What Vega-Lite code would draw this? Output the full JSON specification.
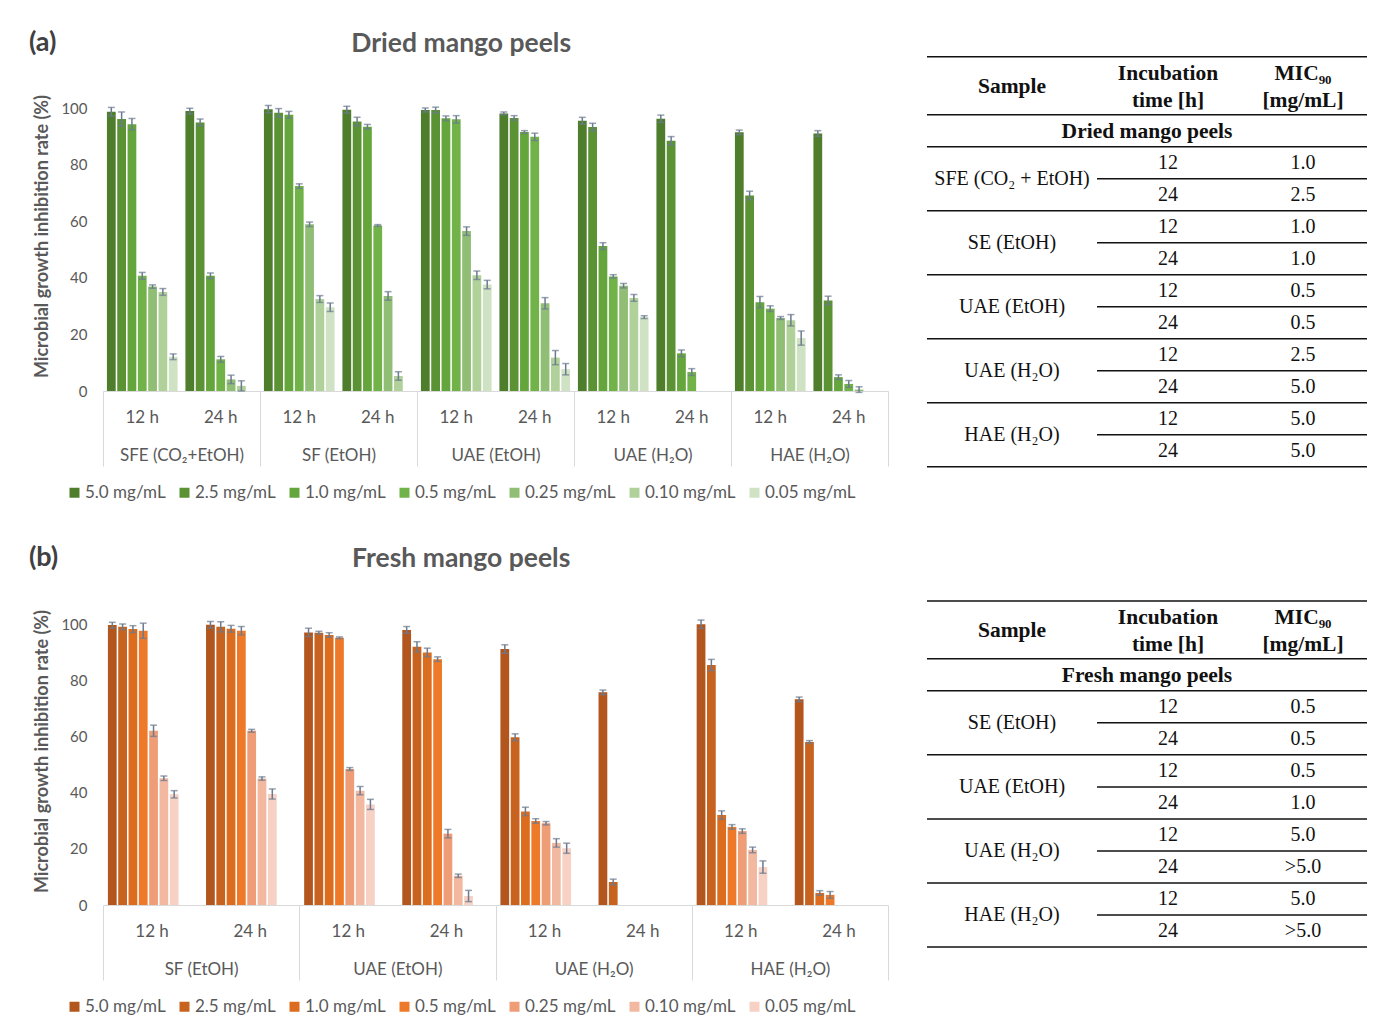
{
  "$schema": "https://vega.github.io/schema/vega-lite/v6.json",
  "padding": {"left": 28, "top": 28, "right": 5, "bottom": 5},
  "config": {
    "view": {"stroke": null},
    "font": "Lato",
    "axis": {"labelColor": "#595959", "titleColor": "#595959", "labelFont": "Lato", "titleFont": "Lato"},
    "legend": {"labelColor": "#595959", "labelFont": "Lato", "layout": {"bottom": {"anchor": "middle"}}},
    "title": {"font": "Lato"}
  },
  "datasets": {
    "dried": [
      {"m":"SFE (CO₂+EtOH)","g":"SFE (CO₂+EtOH) 12 h","c":"5.0 mg/mL","v":98.7,"e":1.5},
      {"m":"SFE (CO₂+EtOH)","g":"SFE (CO₂+EtOH) 12 h","c":"2.5 mg/mL","v":96.1,"e":2.5},
      {"m":"SFE (CO₂+EtOH)","g":"SFE (CO₂+EtOH) 12 h","c":"1.0 mg/mL","v":94.3,"e":2.0},
      {"m":"SFE (CO₂+EtOH)","g":"SFE (CO₂+EtOH) 12 h","c":"0.5 mg/mL","v":40.7,"e":1.2},
      {"m":"SFE (CO₂+EtOH)","g":"SFE (CO₂+EtOH) 12 h","c":"0.25 mg/mL","v":36.9,"e":0.6},
      {"m":"SFE (CO₂+EtOH)","g":"SFE (CO₂+EtOH) 12 h","c":"0.10 mg/mL","v":35.0,"e":1.2},
      {"m":"SFE (CO₂+EtOH)","g":"SFE (CO₂+EtOH) 12 h","c":"0.05 mg/mL","v":12.1,"e":1.0},
      {"m":"SFE (CO₂+EtOH)","g":"SFE (CO₂+EtOH) 24 h","c":"5.0 mg/mL","v":98.9,"e":1.0},
      {"m":"SFE (CO₂+EtOH)","g":"SFE (CO₂+EtOH) 24 h","c":"2.5 mg/mL","v":94.9,"e":1.2},
      {"m":"SFE (CO₂+EtOH)","g":"SFE (CO₂+EtOH) 24 h","c":"1.0 mg/mL","v":40.7,"e":1.0},
      {"m":"SFE (CO₂+EtOH)","g":"SFE (CO₂+EtOH) 24 h","c":"0.5 mg/mL","v":11.2,"e":1.0},
      {"m":"SFE (CO₂+EtOH)","g":"SFE (CO₂+EtOH) 24 h","c":"0.25 mg/mL","v":4.1,"e":1.5},
      {"m":"SFE (CO₂+EtOH)","g":"SFE (CO₂+EtOH) 24 h","c":"0.10 mg/mL","v":1.8,"e":1.8},
      {"m":"SF (EtOH)","g":"SF (EtOH) 12 h","c":"5.0 mg/mL","v":99.6,"e":1.3},
      {"m":"SF (EtOH)","g":"SF (EtOH) 12 h","c":"2.5 mg/mL","v":98.3,"e":1.5},
      {"m":"SF (EtOH)","g":"SF (EtOH) 12 h","c":"1.0 mg/mL","v":97.6,"e":1.2},
      {"m":"SF (EtOH)","g":"SF (EtOH) 12 h","c":"0.5 mg/mL","v":72.4,"e":0.8},
      {"m":"SF (EtOH)","g":"SF (EtOH) 12 h","c":"0.25 mg/mL","v":58.9,"e":0.8},
      {"m":"SF (EtOH)","g":"SF (EtOH) 12 h","c":"0.10 mg/mL","v":32.5,"e":1.2},
      {"m":"SF (EtOH)","g":"SF (EtOH) 12 h","c":"0.05 mg/mL","v":29.6,"e":1.5},
      {"m":"SF (EtOH)","g":"SF (EtOH) 24 h","c":"5.0 mg/mL","v":99.4,"e":1.2},
      {"m":"SF (EtOH)","g":"SF (EtOH) 24 h","c":"2.5 mg/mL","v":95.2,"e":1.5},
      {"m":"SF (EtOH)","g":"SF (EtOH) 24 h","c":"1.0 mg/mL","v":93.4,"e":0.8},
      {"m":"SF (EtOH)","g":"SF (EtOH) 24 h","c":"0.5 mg/mL","v":58.5,"e":0.3},
      {"m":"SF (EtOH)","g":"SF (EtOH) 24 h","c":"0.25 mg/mL","v":33.6,"e":1.5},
      {"m":"SF (EtOH)","g":"SF (EtOH) 24 h","c":"0.10 mg/mL","v":5.3,"e":1.5},
      {"m":"UAE (EtOH)","g":"UAE (EtOH) 12 h","c":"5.0 mg/mL","v":99.3,"e":0.7},
      {"m":"UAE (EtOH)","g":"UAE (EtOH) 12 h","c":"2.5 mg/mL","v":99.3,"e":1.0},
      {"m":"UAE (EtOH)","g":"UAE (EtOH) 12 h","c":"1.0 mg/mL","v":96.4,"e":0.8},
      {"m":"UAE (EtOH)","g":"UAE (EtOH) 12 h","c":"0.5 mg/mL","v":96.0,"e":1.3},
      {"m":"UAE (EtOH)","g":"UAE (EtOH) 12 h","c":"0.25 mg/mL","v":56.5,"e":1.5},
      {"m":"UAE (EtOH)","g":"UAE (EtOH) 12 h","c":"0.10 mg/mL","v":40.9,"e":1.5},
      {"m":"UAE (EtOH)","g":"UAE (EtOH) 12 h","c":"0.05 mg/mL","v":37.6,"e":1.5},
      {"m":"UAE (EtOH)","g":"UAE (EtOH) 24 h","c":"5.0 mg/mL","v":98.1,"e":0.5},
      {"m":"UAE (EtOH)","g":"UAE (EtOH) 24 h","c":"2.5 mg/mL","v":96.5,"e":0.8},
      {"m":"UAE (EtOH)","g":"UAE (EtOH) 24 h","c":"1.0 mg/mL","v":91.5,"e":0.5},
      {"m":"UAE (EtOH)","g":"UAE (EtOH) 24 h","c":"0.5 mg/mL","v":89.8,"e":1.3},
      {"m":"UAE (EtOH)","g":"UAE (EtOH) 24 h","c":"0.25 mg/mL","v":31.0,"e":2.0},
      {"m":"UAE (EtOH)","g":"UAE (EtOH) 24 h","c":"0.10 mg/mL","v":11.8,"e":2.5},
      {"m":"UAE (EtOH)","g":"UAE (EtOH) 24 h","c":"0.05 mg/mL","v":7.7,"e":2.0},
      {"m":"UAE (H₂O)","g":"UAE (H₂O) 12 h","c":"5.0 mg/mL","v":95.5,"e":1.2},
      {"m":"UAE (H₂O)","g":"UAE (H₂O) 12 h","c":"2.5 mg/mL","v":93.3,"e":1.3},
      {"m":"UAE (H₂O)","g":"UAE (H₂O) 12 h","c":"1.0 mg/mL","v":51.2,"e":1.2},
      {"m":"UAE (H₂O)","g":"UAE (H₂O) 12 h","c":"0.5 mg/mL","v":40.5,"e":0.6},
      {"m":"UAE (H₂O)","g":"UAE (H₂O) 12 h","c":"0.25 mg/mL","v":37.2,"e":0.8},
      {"m":"UAE (H₂O)","g":"UAE (H₂O) 12 h","c":"0.10 mg/mL","v":32.9,"e":1.2},
      {"m":"UAE (H₂O)","g":"UAE (H₂O) 12 h","c":"0.05 mg/mL","v":26.1,"e":0.5},
      {"m":"UAE (H₂O)","g":"UAE (H₂O) 24 h","c":"5.0 mg/mL","v":96.2,"e":1.3},
      {"m":"UAE (H₂O)","g":"UAE (H₂O) 24 h","c":"2.5 mg/mL","v":88.4,"e":1.5},
      {"m":"UAE (H₂O)","g":"UAE (H₂O) 24 h","c":"1.0 mg/mL","v":13.3,"e":1.2},
      {"m":"UAE (H₂O)","g":"UAE (H₂O) 24 h","c":"0.5 mg/mL","v":6.7,"e":1.2},
      {"m":"HAE (H₂O)","g":"HAE (H₂O) 12 h","c":"5.0 mg/mL","v":91.4,"e":0.8},
      {"m":"HAE (H₂O)","g":"HAE (H₂O) 12 h","c":"2.5 mg/mL","v":69.1,"e":1.5},
      {"m":"HAE (H₂O)","g":"HAE (H₂O) 12 h","c":"1.0 mg/mL","v":31.4,"e":2.0},
      {"m":"HAE (H₂O)","g":"HAE (H₂O) 12 h","c":"0.5 mg/mL","v":29.1,"e":1.0},
      {"m":"HAE (H₂O)","g":"HAE (H₂O) 12 h","c":"0.25 mg/mL","v":25.8,"e":0.5},
      {"m":"HAE (H₂O)","g":"HAE (H₂O) 12 h","c":"0.10 mg/mL","v":25.0,"e":2.0},
      {"m":"HAE (H₂O)","g":"HAE (H₂O) 12 h","c":"0.05 mg/mL","v":18.7,"e":2.5},
      {"m":"HAE (H₂O)","g":"HAE (H₂O) 24 h","c":"5.0 mg/mL","v":91.0,"e":1.0},
      {"m":"HAE (H₂O)","g":"HAE (H₂O) 24 h","c":"2.5 mg/mL","v":32.0,"e":1.5},
      {"m":"HAE (H₂O)","g":"HAE (H₂O) 24 h","c":"1.0 mg/mL","v":4.9,"e":0.8},
      {"m":"HAE (H₂O)","g":"HAE (H₂O) 24 h","c":"0.5 mg/mL","v":2.5,"e":1.2},
      {"m":"HAE (H₂O)","g":"HAE (H₂O) 24 h","c":"0.25 mg/mL","v":0.5,"e":1.0}
    ],
    "fresh": [
      {"m":"SF (EtOH)","g":"SF (EtOH) 12 h","c":"5.0 mg/mL","v":99.6,"e":1.0},
      {"m":"SF (EtOH)","g":"SF (EtOH) 12 h","c":"2.5 mg/mL","v":99.0,"e":1.0},
      {"m":"SF (EtOH)","g":"SF (EtOH) 12 h","c":"1.0 mg/mL","v":98.2,"e":1.2},
      {"m":"SF (EtOH)","g":"SF (EtOH) 12 h","c":"0.5 mg/mL","v":97.6,"e":2.7},
      {"m":"SF (EtOH)","g":"SF (EtOH) 12 h","c":"0.25 mg/mL","v":62.0,"e":2.0},
      {"m":"SF (EtOH)","g":"SF (EtOH) 12 h","c":"0.10 mg/mL","v":45.1,"e":0.8},
      {"m":"SF (EtOH)","g":"SF (EtOH) 12 h","c":"0.05 mg/mL","v":39.4,"e":1.3},
      {"m":"SF (EtOH)","g":"SF (EtOH) 24 h","c":"5.0 mg/mL","v":99.7,"e":1.2},
      {"m":"SF (EtOH)","g":"SF (EtOH) 24 h","c":"2.5 mg/mL","v":99.0,"e":1.8},
      {"m":"SF (EtOH)","g":"SF (EtOH) 24 h","c":"1.0 mg/mL","v":98.3,"e":1.2},
      {"m":"SF (EtOH)","g":"SF (EtOH) 24 h","c":"0.5 mg/mL","v":97.6,"e":1.5},
      {"m":"SF (EtOH)","g":"SF (EtOH) 24 h","c":"0.25 mg/mL","v":62.0,"e":0.5},
      {"m":"SF (EtOH)","g":"SF (EtOH) 24 h","c":"0.10 mg/mL","v":45.0,"e":0.6},
      {"m":"SF (EtOH)","g":"SF (EtOH) 24 h","c":"0.05 mg/mL","v":39.5,"e":1.8},
      {"m":"UAE (EtOH)","g":"UAE (EtOH) 12 h","c":"5.0 mg/mL","v":97.0,"e":1.5},
      {"m":"UAE (EtOH)","g":"UAE (EtOH) 12 h","c":"2.5 mg/mL","v":96.9,"e":0.5},
      {"m":"UAE (EtOH)","g":"UAE (EtOH) 12 h","c":"1.0 mg/mL","v":96.1,"e":0.8},
      {"m":"UAE (EtOH)","g":"UAE (EtOH) 12 h","c":"0.5 mg/mL","v":95.1,"e":0.3},
      {"m":"UAE (EtOH)","g":"UAE (EtOH) 12 h","c":"0.25 mg/mL","v":48.4,"e":0.5},
      {"m":"UAE (EtOH)","g":"UAE (EtOH) 12 h","c":"0.10 mg/mL","v":40.7,"e":1.5},
      {"m":"UAE (EtOH)","g":"UAE (EtOH) 12 h","c":"0.05 mg/mL","v":35.8,"e":1.8},
      {"m":"UAE (EtOH)","g":"UAE (EtOH) 24 h","c":"5.0 mg/mL","v":97.9,"e":1.2},
      {"m":"UAE (EtOH)","g":"UAE (EtOH) 24 h","c":"2.5 mg/mL","v":91.9,"e":1.8},
      {"m":"UAE (EtOH)","g":"UAE (EtOH) 24 h","c":"1.0 mg/mL","v":89.9,"e":1.5},
      {"m":"UAE (EtOH)","g":"UAE (EtOH) 24 h","c":"0.5 mg/mL","v":87.5,"e":0.8},
      {"m":"UAE (EtOH)","g":"UAE (EtOH) 24 h","c":"0.25 mg/mL","v":25.4,"e":1.5},
      {"m":"UAE (EtOH)","g":"UAE (EtOH) 24 h","c":"0.10 mg/mL","v":10.4,"e":0.6},
      {"m":"UAE (EtOH)","g":"UAE (EtOH) 24 h","c":"0.05 mg/mL","v":3.2,"e":2.0},
      {"m":"UAE (H₂O)","g":"UAE (H₂O) 12 h","c":"5.0 mg/mL","v":91.1,"e":1.5},
      {"m":"UAE (H₂O)","g":"UAE (H₂O) 12 h","c":"2.5 mg/mL","v":59.7,"e":1.2},
      {"m":"UAE (H₂O)","g":"UAE (H₂O) 12 h","c":"1.0 mg/mL","v":33.3,"e":1.5},
      {"m":"UAE (H₂O)","g":"UAE (H₂O) 12 h","c":"0.5 mg/mL","v":29.9,"e":0.8},
      {"m":"UAE (H₂O)","g":"UAE (H₂O) 12 h","c":"0.25 mg/mL","v":29.1,"e":0.6},
      {"m":"UAE (H₂O)","g":"UAE (H₂O) 12 h","c":"0.10 mg/mL","v":22.1,"e":1.5},
      {"m":"UAE (H₂O)","g":"UAE (H₂O) 12 h","c":"0.05 mg/mL","v":20.2,"e":1.8},
      {"m":"UAE (H₂O)","g":"UAE (H₂O) 24 h","c":"5.0 mg/mL","v":75.7,"e":0.8},
      {"m":"UAE (H₂O)","g":"UAE (H₂O) 24 h","c":"2.5 mg/mL","v":8.2,"e":1.0},
      {"m":"HAE (H₂O)","g":"HAE (H₂O) 12 h","c":"5.0 mg/mL","v":99.9,"e":1.5},
      {"m":"HAE (H₂O)","g":"HAE (H₂O) 12 h","c":"2.5 mg/mL","v":85.4,"e":2.0},
      {"m":"HAE (H₂O)","g":"HAE (H₂O) 12 h","c":"1.0 mg/mL","v":32.0,"e":1.5},
      {"m":"HAE (H₂O)","g":"HAE (H₂O) 12 h","c":"0.5 mg/mL","v":27.8,"e":0.8},
      {"m":"HAE (H₂O)","g":"HAE (H₂O) 12 h","c":"0.25 mg/mL","v":26.3,"e":0.8},
      {"m":"HAE (H₂O)","g":"HAE (H₂O) 12 h","c":"0.10 mg/mL","v":19.6,"e":1.0},
      {"m":"HAE (H₂O)","g":"HAE (H₂O) 12 h","c":"0.05 mg/mL","v":13.5,"e":2.2},
      {"m":"HAE (H₂O)","g":"HAE (H₂O) 24 h","c":"5.0 mg/mL","v":73.2,"e":0.8},
      {"m":"HAE (H₂O)","g":"HAE (H₂O) 24 h","c":"2.5 mg/mL","v":58.0,"e":0.5},
      {"m":"HAE (H₂O)","g":"HAE (H₂O) 24 h","c":"1.0 mg/mL","v":4.3,"e":0.8},
      {"m":"HAE (H₂O)","g":"HAE (H₂O) 24 h","c":"0.5 mg/mL","v":3.6,"e":1.2}
    ],
    "tableText": [
      {"k":"head","x":8.5,"r":0.94,"txt":"Sample"},
      {"k":"head","x":24.1,"r":0.53,"txt":"Incubation\ntime [h]"},
      {"k":"head","x":37.6,"r":0.53,"txt":"MIC₉₀\n[mg/mL]"},
      {"k":"head","x":22,"r":2.34,"txt":"Dried mango peels"},
      {"k":"body","x":8.5,"r":3.81,"txt":"SFE (CO₂ + EtOH)"},
      {"k":"body","x":8.5,"r":5.81,"txt":"SE (EtOH)"},
      {"k":"body","x":8.5,"r":7.81,"txt":"UAE (EtOH)"},
      {"k":"body","x":8.5,"r":9.81,"txt":"UAE (H₂O)"},
      {"k":"body","x":8.5,"r":11.81,"txt":"HAE (H₂O)"},
      {"k":"body","x":24.1,"r":3.31,"txt":"12"},{"k":"body","x":37.6,"r":3.31,"txt":"1.0"},
      {"k":"body","x":24.1,"r":4.31,"txt":"24"},{"k":"body","x":37.6,"r":4.31,"txt":"2.5"},
      {"k":"body","x":24.1,"r":5.31,"txt":"12"},{"k":"body","x":37.6,"r":5.31,"txt":"1.0"},
      {"k":"body","x":24.1,"r":6.31,"txt":"24"},{"k":"body","x":37.6,"r":6.31,"txt":"1.0"},
      {"k":"body","x":24.1,"r":7.31,"txt":"12"},{"k":"body","x":37.6,"r":7.31,"txt":"0.5"},
      {"k":"body","x":24.1,"r":8.31,"txt":"24"},{"k":"body","x":37.6,"r":8.31,"txt":"0.5"},
      {"k":"body","x":24.1,"r":9.31,"txt":"12"},{"k":"body","x":37.6,"r":9.31,"txt":"2.5"},
      {"k":"body","x":24.1,"r":10.31,"txt":"24"},{"k":"body","x":37.6,"r":10.31,"txt":"5.0"},
      {"k":"body","x":24.1,"r":11.31,"txt":"12"},{"k":"body","x":37.6,"r":11.31,"txt":"5.0"},
      {"k":"body","x":24.1,"r":12.31,"txt":"24"},{"k":"body","x":37.6,"r":12.31,"txt":"5.0"},
      {"k":"head","x":8.5,"r":17.94,"txt":"Sample"},
      {"k":"head","x":24.1,"r":17.53,"txt":"Incubation\ntime [h]"},
      {"k":"head","x":37.6,"r":17.53,"txt":"MIC₉₀\n[mg/mL]"},
      {"k":"head","x":22,"r":19.34,"txt":"Fresh mango peels"},
      {"k":"body","x":8.5,"r":20.81,"txt":"SE (EtOH)"},
      {"k":"body","x":8.5,"r":22.81,"txt":"UAE (EtOH)"},
      {"k":"body","x":8.5,"r":24.81,"txt":"UAE (H₂O)"},
      {"k":"body","x":8.5,"r":26.81,"txt":"HAE (H₂O)"},
      {"k":"body","x":24.1,"r":20.31,"txt":"12"},{"k":"body","x":37.6,"r":20.31,"txt":"0.5"},
      {"k":"body","x":24.1,"r":21.31,"txt":"24"},{"k":"body","x":37.6,"r":21.31,"txt":"0.5"},
      {"k":"body","x":24.1,"r":22.31,"txt":"12"},{"k":"body","x":37.6,"r":22.31,"txt":"0.5"},
      {"k":"body","x":24.1,"r":23.31,"txt":"24"},{"k":"body","x":37.6,"r":23.31,"txt":"1.0"},
      {"k":"body","x":24.1,"r":24.31,"txt":"12"},{"k":"body","x":37.6,"r":24.31,"txt":"5.0"},
      {"k":"body","x":24.1,"r":25.31,"txt":"24"},{"k":"body","x":37.6,"r":25.31,"txt":">5.0"},
      {"k":"body","x":24.1,"r":26.31,"txt":"12"},{"k":"body","x":37.6,"r":26.31,"txt":"5.0"},
      {"k":"body","x":24.1,"r":27.31,"txt":"24"},{"k":"body","x":37.6,"r":27.31,"txt":">5.0"}
    ],
    "tableRules": [
      {"r":0,"x1":0,"x2":44},{"r":1.81,"x1":0,"x2":44},{"r":2.81,"x1":0,"x2":44},
      {"r":3.81,"x1":17,"x2":44},{"r":4.81,"x1":0,"x2":44},
      {"r":5.81,"x1":17,"x2":44},{"r":6.81,"x1":0,"x2":44},
      {"r":7.81,"x1":17,"x2":44},{"r":8.81,"x1":0,"x2":44},
      {"r":9.81,"x1":17,"x2":44},{"r":10.81,"x1":0,"x2":44},
      {"r":11.81,"x1":17,"x2":44},{"r":12.81,"x1":0,"x2":44},
      {"r":17,"x1":0,"x2":44},{"r":18.81,"x1":0,"x2":44},{"r":19.81,"x1":0,"x2":44},
      {"r":20.81,"x1":17,"x2":44},{"r":21.81,"x1":0,"x2":44},
      {"r":22.81,"x1":17,"x2":44},{"r":23.81,"x1":0,"x2":44},
      {"r":24.81,"x1":17,"x2":44},{"r":25.81,"x1":0,"x2":44},
      {"r":26.81,"x1":17,"x2":44},{"r":27.81,"x1":0,"x2":44}
    ]
  },
  "hconcat": [
    {
      "vconcat": [
        {
          "title": {"text": "(a)", "anchor": "start", "offset": -26, "dx": -5, "fontSize": 27, "fontWeight": "bold", "color": "#404040"},
          "vconcat": [
            {
              "data": {"name": "dried"},
              "width": 785,
              "height": 283,
              "title": {"text": "Dried mango peels", "anchor": "middle", "frame": "bounds", "offset": 37, "fontSize": 26.5, "fontWeight": "bold", "color": "#595959"},
              "layer": [
                {
                  "layer": [
                    {
                      "mark": {"type": "bar"},
                      "encoding": {
                        "x": {"field": "g", "type": "nominal", "sort": null, "scale": {"paddingInner": 0.1, "paddingOuter": 0.05},
                              "axis": {"title": null, "orient": "bottom", "labelExpr": "substring(datum.label, length(datum.label)-4)", "labelAngle": 0, "ticks": false, "domain": false, "labelPadding": 18, "labelFontSize": 17}},
                        "xOffset": {"field": "c", "type": "nominal", "scale": {"domain": ["5.0 mg/mL","2.5 mg/mL","1.0 mg/mL","0.5 mg/mL","0.25 mg/mL","0.10 mg/mL","0.05 mg/mL"], "paddingInner": 0.15}},
                        "y": {"field": "v", "type": "quantitative", "title": "Microbial growth inhibition rate (%)", "scale": {"domain": [0, 100], "nice": false},
                              "axis": {"values": [0,20,40,60,80,100], "grid": false, "ticks": false, "domain": false, "labelPadding": 16, "labelFontSize": 15, "titlePadding": 9, "titleFontSize": 18, "titleFontWeight": "bold", "titleY": 128}},
                        "color": {"field": "c", "type": "nominal",
                                  "scale": {"domain": ["5.0 mg/mL","2.5 mg/mL","1.0 mg/mL","0.5 mg/mL","0.25 mg/mL","0.10 mg/mL","0.05 mg/mL"], "range": ["#4e7d2c","#5a9234","#64a63b","#71b349","#90be75","#b0d29a","#cfe2c3"]},
                                  "legend": {"title": null, "orient": "bottom", "direction": "horizontal", "offset": 17, "symbolType": "square", "symbolSize": 100, "labelFontSize": 17, "columnPadding": 10, "labelOffset": 2, "symbolStrokeWidth": 0}}
                      }
                    },
                    {
                      "mark": {"type": "errorbar", "ticks": {"size": 7}, "rule": {"strokeWidth": 1.5}, "color": "#6b7a8f", "thickness": 1.5},
                      "encoding": {
                        "x": {"field": "g", "type": "nominal", "sort": null},
                        "xOffset": {"field": "c", "type": "nominal"},
                        "y": {"field": "v", "type": "quantitative", "title": "Microbial growth inhibition rate (%)"},
                        "yError": {"field": "e"}
                      }
                    }
                  ]
                },
                {
                  "mark": {"type": "rule", "opacity": 0},
                  "encoding": {
                    "x": {"field": "m", "type": "nominal", "sort": null, "scale": {"type": "band", "paddingInner": 0, "paddingOuter": 0},
                          "axis": {"title": null, "orient": "bottom", "labelAngle": 0, "tickBand": "extent", "tickSize": 75, "tickColor": "#d9d9d9", "domainColor": "#d9d9d9", "labelPadding": -19, "labelFontSize": 17}}
                  }
                }
              ],
              "resolve": {"scale": {"x": "independent"}}
            }
          ]
        },
        {
          "title": {"text": "(b)", "anchor": "start", "offset": -26, "dx": -5, "fontSize": 27, "fontWeight": "bold", "color": "#404040"},
          "vconcat": [
            {
              "data": {"name": "fresh"},
              "width": 785,
              "height": 281,
              "title": {"text": "Fresh mango peels", "anchor": "middle", "frame": "bounds", "offset": 37, "fontSize": 26.5, "fontWeight": "bold", "color": "#595959"},
              "layer": [
                {
                  "layer": [
                    {
                      "mark": {"type": "bar"},
                      "encoding": {
                        "x": {"field": "g", "type": "nominal", "sort": null, "scale": {"paddingInner": 0.1, "paddingOuter": 0.05},
                              "axis": {"title": null, "orient": "bottom", "labelExpr": "substring(datum.label, length(datum.label)-4)", "labelAngle": 0, "ticks": false, "domain": false, "labelPadding": 18, "labelFontSize": 17}},
                        "xOffset": {"field": "c", "type": "nominal", "scale": {"domain": ["5.0 mg/mL","2.5 mg/mL","1.0 mg/mL","0.5 mg/mL","0.25 mg/mL","0.10 mg/mL","0.05 mg/mL"], "paddingInner": 0.15}},
                        "y": {"field": "v", "type": "quantitative", "title": "Microbial growth inhibition rate (%)", "scale": {"domain": [0, 100], "nice": false},
                              "axis": {"values": [0,20,40,60,80,100], "grid": false, "ticks": false, "domain": false, "labelPadding": 16, "labelFontSize": 15, "titlePadding": 9, "titleFontSize": 18, "titleFontWeight": "bold", "titleY": 127}},
                        "color": {"field": "c", "type": "nominal",
                                  "scale": {"domain": ["5.0 mg/mL","2.5 mg/mL","1.0 mg/mL","0.5 mg/mL","0.25 mg/mL","0.10 mg/mL","0.05 mg/mL"], "range": ["#b3561e","#c8631f","#dc6c1e","#ee7a29","#ef9d77","#f3b8a0","#f6d1c4"]},
                                  "legend": {"title": null, "orient": "bottom", "direction": "horizontal", "offset": 17, "symbolType": "square", "symbolSize": 100, "labelFontSize": 17, "columnPadding": 10, "labelOffset": 2, "symbolStrokeWidth": 0}}
                      }
                    },
                    {
                      "mark": {"type": "errorbar", "ticks": {"size": 7}, "rule": {"strokeWidth": 1.5}, "color": "#6b7a8f", "thickness": 1.5},
                      "encoding": {
                        "x": {"field": "g", "type": "nominal", "sort": null},
                        "xOffset": {"field": "c", "type": "nominal"},
                        "y": {"field": "v", "type": "quantitative", "title": "Microbial growth inhibition rate (%)"},
                        "yError": {"field": "e"}
                      }
                    }
                  ]
                },
                {
                  "mark": {"type": "rule", "opacity": 0},
                  "encoding": {
                    "x": {"field": "m", "type": "nominal", "sort": null, "scale": {"type": "band", "paddingInner": 0, "paddingOuter": 0},
                          "axis": {"title": null, "orient": "bottom", "labelAngle": 0, "tickBand": "extent", "tickSize": 75, "tickColor": "#d9d9d9", "domainColor": "#d9d9d9", "labelPadding": -19, "labelFontSize": 17}}
                  }
                }
              ],
              "resolve": {"scale": {"x": "independent"}}
            }
          ]
        }
      ],
      "spacing": 42,
      "resolve": {"scale": {"color": "independent"}}
    },
    {
      "width": 440,
      "height": 845,
      "layer": [
        {
          "data": {"name": "tableRules"},
          "mark": {"type": "rule", "strokeWidth": 1.5, "color": "#111111"},
          "encoding": {
            "x": {"field": "x1", "type": "quantitative", "scale": {"domain": [0, 44], "nice": false, "zero": false}, "axis": null},
            "x2": {"field": "x2"},
            "y": {"field": "r", "type": "quantitative", "scale": {"domain": [1.6, 28], "nice": false, "zero": false, "reverse": true}, "axis": null}
          }
        },
        {
          "data": {"name": "tableText"},
          "transform": [{"filter": "datum.k == 'body'"}],
          "mark": {"type": "text", "font": "Liberation Serif", "fontSize": 20, "color": "#111111", "baseline": "middle", "align": "center"},
          "encoding": {
            "x": {"field": "x", "type": "quantitative"},
            "y": {"field": "r", "type": "quantitative"},
            "text": {"field": "txt"}
          }
        },
        {
          "data": {"name": "tableText"},
          "transform": [{"filter": "datum.k == 'head'"}],
          "mark": {"type": "text", "font": "Liberation Serif", "fontSize": 21.5, "fontWeight": "bold", "color": "#111111", "baseline": "middle", "align": "center", "lineBreak": "\n", "lineHeight": 27},
          "encoding": {
            "x": {"field": "x", "type": "quantitative"},
            "y": {"field": "r", "type": "quantitative"},
            "text": {"field": "txt"}
          }
        }
      ]
    }
  ],
  "spacing": 37
}
